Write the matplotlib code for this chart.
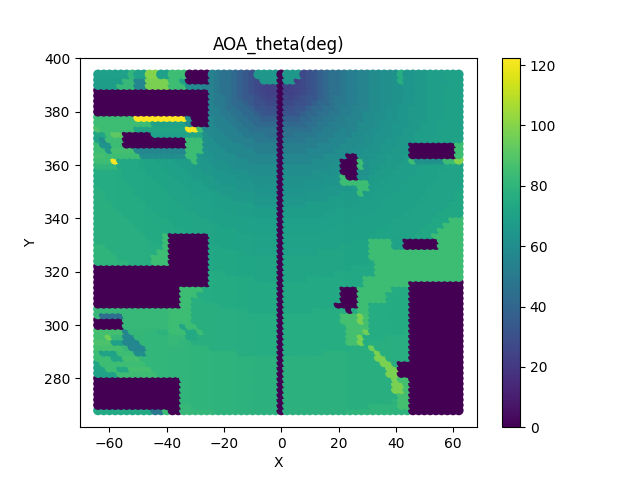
import numpy as np
import matplotlib
matplotlib.use("Agg")
import matplotlib.pyplot as plt

title = "AOA_theta(deg)"
x_values = list(range(-64, 64, 2))
y_values = list(range(394, 266, -2))

# level codes -> angle in degrees
level_values = {"#": 0, "A": 23, "B": 25, "C": 27, "D": 30, "E": 33, "F": 37, "G": 41, "H": 45,
                "I": 49, "J": 52.5, "K": 56, "a": 59.5, "b": 61.5, "c": 63.5, "d": 65.5, "e": 67.5, "f": 69,
                "g": 70.5, "h": 72, "i": 74, "j": 76, "k": 78, "l": 80, "m": 84, "n": 86, "o": 88,
                "p": 92, "q": 94, "r": 96, "s": 98, "t": 100, "Y": 122.5, "L": 44, "M": 50,
                "u": 80, "v": 82}

# slow drift of the open field from the left edge to the right edge, degrees
column_drift = [3.5, 3.5, 3.5, 3.5, 3, 3, 3, 3, 3, 2.5, 2.5, 2.5, 2.5, 2, 2, 2,
                2, 1.5, 1.5, 1.5, 1.5, 1, 1, 1, 1, 0.5, 0.5, 0.5, 0, 0, 0, 0,
                0, 0, 0, 0, 0, 0, 0, 0, 0, 0, 0, 0, -0.5, -0.5, -0.5, -0.5,
                -0.5, -0.5, -0.5, -0.5, -1, -1, -1, -1, -1, -1, -1, -1, -1, -1, -1, -1]

# open field, read row by row, outward from the x=0 column
open_field = [
    "A2 B1 C1 D1 E1 F1 G1 H2 I1 J2 K2 a2 b2 c2 d2 e2 f3 g4",
    "A3 C1 D1 E1 F1 G1 H2 I1 J2 K2 a2 b2 c2 d2 e2 f4 g3",
    "A2 B1 C1 D1 E1 F1 G1 H2 I1 J2 K2 a2 b2 c2 d2 e2 f3 g4",
    "A2 B1 C1 D1 E1 F1 G1 H2 I1 J2 K2 a2 b2 c2 d2 e2 f3 g4",
    "B2 C1 D1 E2 F1 G1 H1 I2 J2 K2 a2 b2 c2 d2 e2 f3 g4",
    "C2 D2 E1 F1 G2 H1 I2 J2 K2 a2 b2 c2 d2 e2 f3 g4",
    "D2 E2 F1 G2 H2 I1 J2 K3 a2 b1 c2 d2 e3 f3 g4",
    "E3 F1 G2 H2 I2 J2 K2 a2 b2 c2 d2 e3 f3 g4",
    "F3 G2 H2 I2 J2 K3 a2 b2 c2 d2 e3 f3 g4",
    "G4 H2 I2 J3 K2 a3 b1 c2 d3 e2 f3 g4 h1",
    "H5 I2 J3 K3 a2 b2 c2 d2 e3 f3 g4 h1",
    "H2 I4 J3 K3 a2 b2 c3 d2 e2 f4 g4 h1",
    "I4 J4 K3 a3 b2 c2 d2 e3 f3 g4 h2",
    "J6 K4 a3 b2 c2 d3 e3 f3 g4 h2",
    "J4 K5 a3 b2 c3 d2 e3 f3 g4 h3",
    "K7 a4 b2 c3 d2 e3 f4 g4 h3",
    "K5 a4 b3 c3 d3 e3 f3 g5 h3",
    "a8 b3 c3 d3 e3 f4 g4 h4",
    "a5 b4 c4 d3 e3 f4 g4 h5",
    "b7 c4 d4 e3 f4 g5 h5",
    "b4 c6 d3 e4 f4 g5 h6",
    "c7 d5 e4 f4 g5 h6 i1",
    "c4 d6 e5 f4 g6 h5 i2",
    "d8 e5 f5 g6 h6 i2",
    "d4 e8 f5 g6 h6 i3",
    "e9 f7 g6 h6 i4",
    "e7 f7 g7 h6 i5",
    "f12 g7 h7 i6",
    "f10 g8 h7 i7",
    "f7 g9 h8 i8",
    "g15 h8 i9",
    "g12 h10 i10",
    "g10 h10 i10 j2",
    "g6 h13 i10 j3",
    "h17 i11 j4",
    "h15 i11 j6",
    "h12 i13 j7",
    "h9 i15 j8",
    "h4 i18 j10",
    "i20 j12",
    "i18 j14",
    "i16 j16",
    "i13 j19",
    "i10 j22",
    "i5 j27",
    "j26 k6",
    "j25 k7",
    "j23 k9",
    "j21 k11",
    "j18 k14",
    "j15 k17",
    "j12 k20",
    "j7 k25",
    "k32",
    "k32",
    "k32",
    "k30 l2",
    "k28 l4",
    "k26 l6",
    "k24 l8",
    "k22 l10",
    "k19 l13",
    "k15 l17",
    "k11 l21",
]

# local areas: first row, last row, first column, last column, level
areas = [
    # top-left clutter
    (0, 0, 0, 5, "f"), (0, 0, 6, 6, "u"), (0, 0, 7, 8, "f"), (0, 0, 9, 10, "t"), (0, 0, 11, 12, "f"), (0, 0, 13, 15, "m"),
    (1, 1, 0, 4, "e"), (1, 1, 5, 6, "v"), (1, 1, 7, 8, "K"), (1, 1, 9, 12, "s"), (1, 1, 13, 14, "m"), (1, 1, 15, 15, "g"),
    (2, 2, 0, 3, "e"), (2, 2, 4, 6, "v"), (2, 2, 7, 8, "K"), (2, 2, 9, 12, "s"), (2, 2, 13, 15, "m"),
    (8, 8, 0, 6, "m"), (8, 8, 7, 15, "Y"), (8, 8, 16, 16, "b"),
    (9, 9, 0, 9, "m"), (9, 9, 10, 15, "g"), (9, 9, 16, 16, "a"),
    (10, 10, 0, 0, "o"), (10, 10, 1, 6, "m"), (10, 10, 7, 15, "h"), (10, 10, 16, 17, "Y"), (10, 10, 18, 18, "m"),
    (11, 11, 0, 1, "h"), (11, 11, 2, 2, "m"), (11, 11, 3, 4, "p"), (11, 11, 10, 15, "f"), (11, 11, 16, 18, "h"),
    (12, 12, 0, 0, "g"), (12, 12, 1, 1, "a"), (12, 12, 2, 4, "m"), (12, 13, 16, 18, "m"),
    (13, 13, 0, 0, "m"), (13, 13, 1, 2, "c"), (13, 13, 3, 4, "m"),
    (14, 14, 0, 1, "m"), (14, 14, 2, 2, "d"), (14, 14, 3, 6, "n"), (14, 14, 7, 15, "K"), (14, 14, 16, 18, "m"),
    (15, 15, 0, 1, "n"), (15, 15, 2, 7, "m"), (15, 15, 8, 15, "a"), (15, 15, 16, 17, "m"),
    (16, 16, 0, 2, "m"), (16, 16, 3, 3, "Y"), (16, 16, 17, 17, "m"),
    (17, 17, 0, 3, "u"),
    # lower-left clutter
    (30, 35, 12, 12, "m"), (33, 35, 11, 11, "m"), (34, 35, 10, 10, "m"),
    (40, 40, 15, 18, "m"), (41, 41, 15, 17, "m"), (42, 43, 15, 16, "m"),
    (44, 46, 13, 16, "m"), (47, 47, 13, 17, "m"), (47, 47, 15, 15, "h"),
    (48, 48, 13, 18, "m"), (48, 48, 16, 17, "i"), (49, 49, 13, 15, "v"), (49, 49, 16, 17, "i"), (50, 50, 13, 14, "v"),
    (44, 44, 0, 12, "v"), (45, 45, 0, 0, "v"), (45, 45, 1, 4, "L"), (45, 47, 5, 12, "v"),
    (48, 48, 0, 4, "n"), (48, 48, 5, 5, "K"),
    (49, 49, 0, 1, "n"), (49, 49, 2, 2, "r"), (49, 49, 3, 4, "v"), (49, 49, 5, 6, "K"),
    (50, 50, 0, 2, "o"), (50, 50, 3, 4, "f"), (50, 50, 5, 7, "K"),
    (51, 51, 0, 4, "n"), (51, 51, 5, 5, "v"), (51, 51, 6, 8, "K"),
    (52, 52, 0, 0, "m"), (52, 52, 1, 3, "g"), (52, 52, 4, 6, "m"), (52, 52, 7, 8, "a"),
    (53, 53, 0, 2, "m"), (53, 53, 3, 4, "h"), (53, 53, 5, 7, "n"),
    (54, 54, 0, 0, "h"), (54, 54, 1, 8, "m"),
    (55, 55, 0, 1, "h"), (55, 55, 2, 3, "m"), (55, 55, 4, 5, "i"), (55, 55, 6, 9, "n"),
    (56, 56, 0, 3, "g"), (56, 56, 4, 10, "m"),
    (63, 63, 0, 9, "i"), (63, 63, 10, 11, "M"), (63, 63, 12, 12, "m"),
    # top centre and right
    (0, 0, 28, 31, "d"), (1, 1, 29, 31, "d"), (0, 0, 33, 35, "d"), (1, 1, 33, 34, "d"),
    (0, 1, 53, 53, "j"),
    (13, 15, 63, 63, "m"), (16, 16, 55, 55, "m"), (16, 16, 56, 60, "b"), (16, 16, 61, 62, "m"), (16, 16, 63, 63, "t"),
    (16, 17, 46, 46, "m"), (17, 17, 47, 47, "b"), (18, 18, 46, 47, "b"), (19, 19, 46, 47, "c"), (19, 19, 43, 43, "m"),
    (20, 20, 43, 47, "m"), (21, 21, 46, 47, "m"), (22, 22, 46, 46, "m"),
    (27, 27, 62, 63, "m"), (28, 28, 61, 63, "m"), (29, 29, 60, 63, "m"), (30, 30, 59, 63, "m"),
    (31, 32, 48, 52, "m"), (31, 32, 52, 53, "g"), (31, 32, 60, 63, "m"),
    (33, 34, 48, 63, "m"), (35, 37, 49, 63, "m"), (38, 38, 47, 63, "m"),
    (39, 39, 47, 54, "m"), (40, 40, 46, 51, "m"), (41, 42, 46, 50, "m"), (43, 44, 46, 47, "m"),
    (45, 46, 43, 47, "n"), (47, 47, 44, 47, "n"), (48, 50, 44, 46, "n"),
    (45, 46, 46, 46, "s"), (48, 48, 47, 47, "r"), (49, 50, 46, 46, "s"),
    (57, 62, 53, 54, "n"),
    (51, 51, 48, 48, "r"), (52, 52, 49, 49, "s"), (53, 53, 49, 50, "s"), (54, 54, 50, 51, "s"),
    (55, 56, 51, 52, "s"), (57, 57, 52, 52, "s"), (58, 59, 52, 53, "s"),
    # empty blocks
    (0, 1, 16, 19, "#"), (3, 7, 0, 19, "#"), (8, 9, 17, 19, "#"),
    (11, 11, 5, 9, "#"), (12, 13, 5, 15, "#"),
    (30, 35, 13, 19, "#"), (36, 39, 0, 19, "#"), (40, 43, 0, 14, "#"),
    (46, 47, 0, 4, "#"), (57, 62, 0, 14, "#"), (63, 63, 13, 14, "#"),
    (13, 15, 55, 62, "#"), (15, 15, 44, 45, "#"), (16, 18, 43, 45, "#"), (19, 19, 44, 45, "#"),
    (31, 32, 54, 59, "#"), (39, 63, 55, 63, "#"), (54, 56, 53, 54, "#"),
    (40, 42, 43, 45, "#"), (43, 43, 42, 45, "#"), (44, 44, 44, 44, "#"),
    (0, 63, 32, 32, "#"),
]

theta = np.zeros((len(y_values), len(x_values)))
for r, row in enumerate(open_field):
    half = []
    for token in row.split():
        half += [level_values[token[0]]] * int(token[1:])
    half = (half + half[-1:] * 32)[:32]
    theta[r, 33:] = half[:31]
    theta[r, :32] = half[::-1]
theta += np.array(column_drift)
for r0, r1, c0, c1, code in areas:
    theta[r0:r1 + 1, c0:c1 + 1] = level_values[code]

xx, yy = np.meshgrid(x_values, y_values)
order = np.lexsort((xx.ravel(), yy.ravel()))

fig, ax = plt.subplots(figsize=(6.4, 4.8), dpi=100)
sc = ax.scatter(xx.ravel()[order], yy.ravel()[order], c=theta.ravel()[order])
ax.set_title(title)
ax.set_xlabel("X")
ax.set_ylabel("Y")
fig.colorbar(sc, ax=ax)
fig.savefig("out.png", dpi=100)
